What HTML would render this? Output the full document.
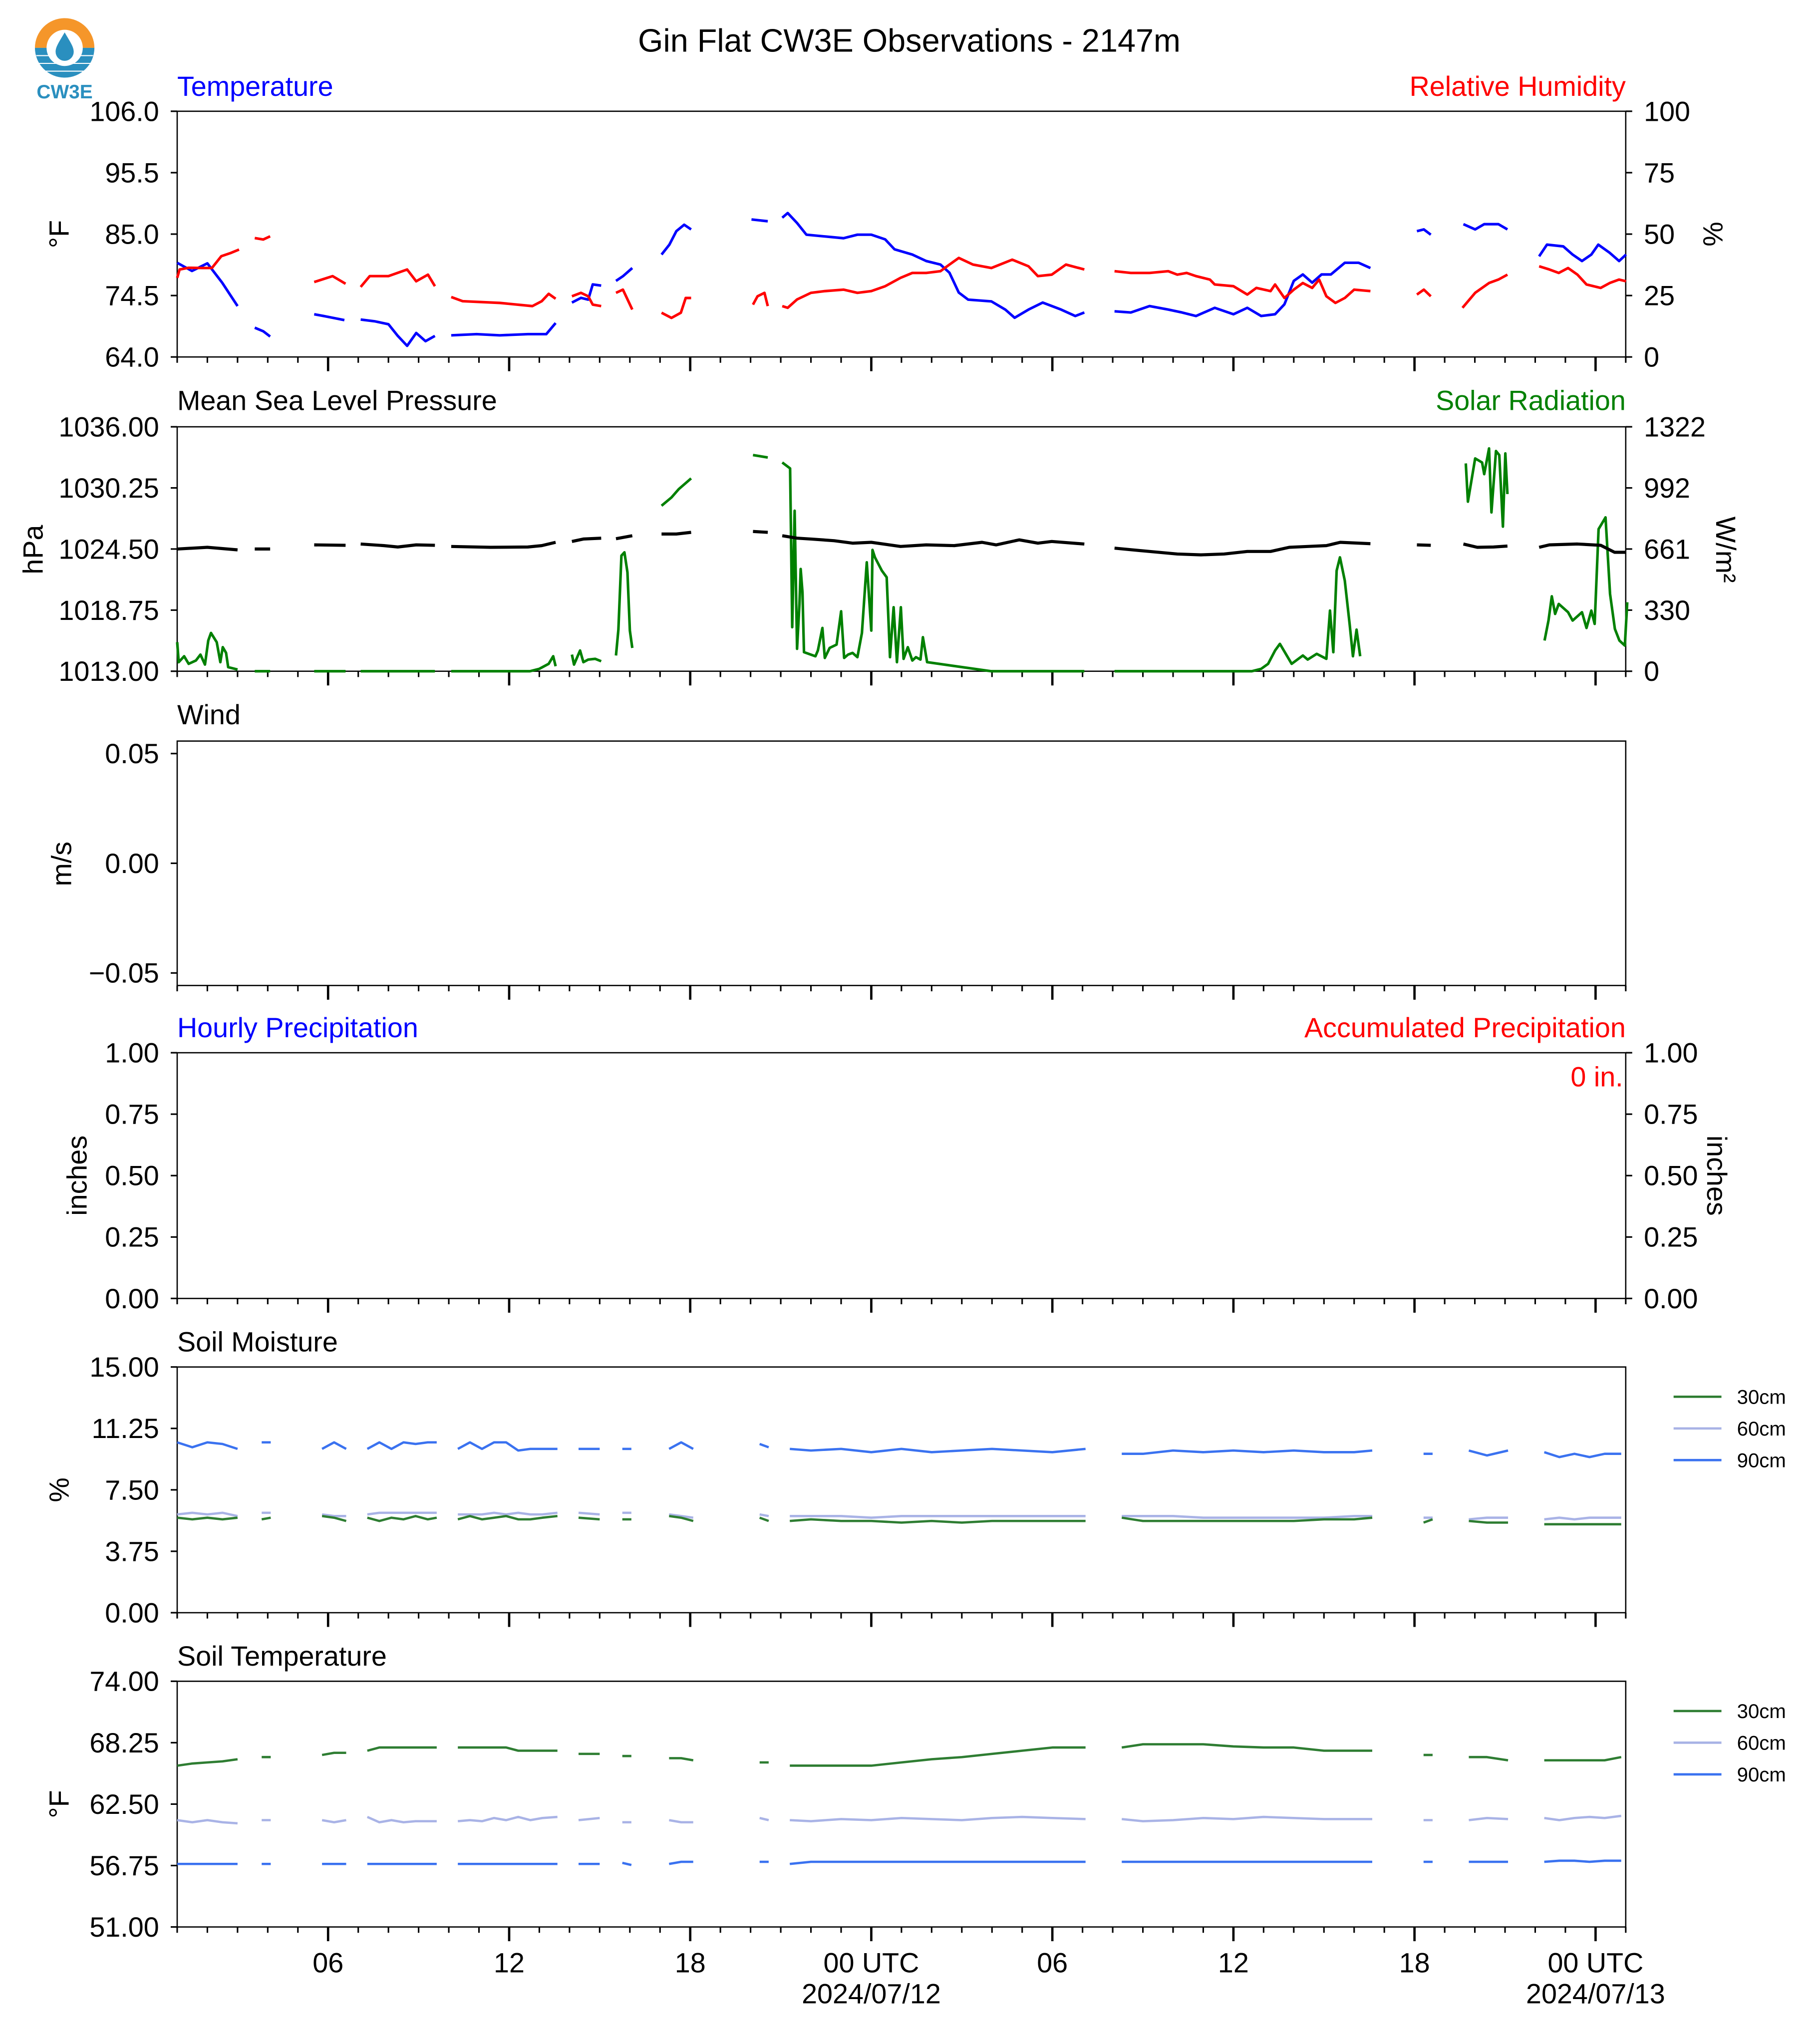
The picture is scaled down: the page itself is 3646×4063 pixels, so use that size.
<!DOCTYPE html>
<html><head><meta charset="utf-8">
<style>
html,body{margin:0;padding:0;background:#fff;}
svg{display:block;font-family:"Liberation Sans",Arial,sans-serif;}
</style></head>
<body>
<svg id="chart" width="3646" height="4063" viewBox="0 0 1407.2 1568.1" xmlns="http://www.w3.org/2000/svg">
<rect x="0" y="0" width="1407.2" height="1568.1" fill="#fff"/>
<g>
  <path d="M27,37 A23,23 0 0 1 73,37 Z" fill="#f5962a"/>
  <path d="M27,37 A23,23 0 0 0 73,37 Z" fill="#2a8fbf"/>
  <line x1="28" y1="43" x2="72" y2="43" stroke="#fff" stroke-width="0.8"/>
  <line x1="30" y1="49" x2="70" y2="49" stroke="#fff" stroke-width="0.8"/>
  <line x1="35" y1="55" x2="65" y2="55" stroke="#fff" stroke-width="0.8"/>
  <circle cx="50" cy="37" r="14" fill="#fff"/>
  <path d="M50,25 C46,32 43,36 43,40 A7,7 0 0 0 57,40 C57,36 54,32 50,25 Z" fill="#2a8fbf"/>
  <text x="50" y="76" text-anchor="middle" font-size="15" font-weight="bold" fill="#2a8fbf">CW3E</text>
</g>
<text x="703" y="40" text-anchor="middle" font-size="25">Gin Flat CW3E Observations - 2147m</text>
<g id="plots"></g>
</svg>
<script>
// ---------- DATA ----------
const tempHours = [1,1.49,2,2.49,3,null,3.57,3.85,4.08,null,5.54,5.85,6.15,6.54,null,7.08,7.54,8,8.31,8.62,8.92,9.23,9.54,null,10.08,10.92,11.69,12.62,13.23,13.54,null,14.08,14.38,14.62,14.77,15.05,null,15.54,15.77,16.08,null,17.05,17.31,17.54,17.8,18.03,null,20.03,20.57,null,21.05,21.23,21.54,21.85,22.46,23.08,23.54,24,24.46,24.77,25.36,25.82,26.29,26.59,26.9,27.21,27.98,28.44,28.75,29.21,29.68,30.29,30.76,31.06,null,32.06,32.6,33.22,33.84,34.3,34.76,35.38,36,36.46,36.92,37.38,37.69,38,38.3,38.61,38.92,39.23,39.69,40.15,40.54,null,42.08,42.31,42.54,null,43.62,44.01,44.31,44.78,45.08,null,46.13,46.39,46.93,47.24,47.55,47.86,48.09,48.47,48.78,49.01];
const tempValues = [80.1,78.7,80.0,76.7,72.7,null,69.0,68.4,67.5,null,71.3,71.0,70.7,70.3,null,70.4,70.1,69.6,67.6,65.9,68.1,66.7,67.6,null,67.7,67.9,67.7,67.9,67.9,69.8,null,73.3,74.1,73.8,76.4,76.2,null,77.0,77.8,79.2,null,81.5,83.2,85.5,86.6,85.8,null,87.5,87.2,null,87.8,88.6,86.9,84.9,84.6,84.3,84.9,84.9,84.1,82.4,81.5,80.4,79.8,78.4,75.0,73.8,73.5,72.1,70.7,72.1,73.3,72.1,71.0,71.6,null,71.8,71.6,72.7,72.1,71.6,71.0,72.4,71.3,72.4,71.0,71.3,73.0,77.0,78.1,76.7,78.1,78.1,80.1,80.1,79.2,null,85.5,85.8,84.9,null,86.7,85.8,86.7,86.7,85.8,null,81.2,83.2,82.9,81.5,80.4,81.5,83.2,81.8,80.4,81.5];
const rhHours = [1,1.08,1.38,1.85,2.15,2.46,2.77,3.05,null,3.57,3.85,4.08,null,5.54,6.15,6.58,null,7.08,7.38,8,8.62,8.92,9.31,9.54,null,10.08,10.46,11.69,12.77,13.08,13.31,13.54,null,14.08,14.38,14.62,14.77,15.05,null,15.54,15.77,16.08,null,17.05,17.38,17.69,17.85,18.03,null,20.08,20.23,20.46,20.57,null,21.05,21.23,21.54,22,22.46,23.08,23.54,24,24.46,24.97,25.36,25.82,26.29,26.59,26.9,27.37,27.98,28.67,29.21,29.52,29.98,30.45,31.06,null,32.06,32.6,33.22,33.84,34.14,34.45,34.76,35.22,35.38,36,36.46,36.76,37.23,37.38,37.69,38,38.3,38.61,38.84,39.08,39.38,39.69,40,40.54,null,42.08,42.31,42.54,null,43.59,44.01,44.47,44.78,45.08,null,46.13,46.47,46.78,47.09,47.4,47.7,48.17,48.47,48.78,49.01];
const rhValues = [32.2,35.6,36.3,36.2,36.2,41.0,42.3,43.7,null,48.4,47.8,49.1,null,30.5,32.9,29.8,null,28.5,32.9,32.9,35.6,30.8,33.5,28.8,null,24.4,22.7,22.0,20.7,22.7,25.7,23.7,null,24.7,26.1,24.7,21.3,20.7,null,26.1,27.4,19.3,null,18.0,15.9,18.0,24.0,24.0,null,21.3,24.7,26.1,20.7,null,20.7,20.0,23.4,26.1,26.8,27.4,26.1,26.8,28.8,32.2,34.2,34.2,34.9,37.6,40.3,37.6,36.2,39.6,36.9,32.9,33.5,37.6,35.6,null,34.9,34.2,34.2,34.9,33.5,34.2,32.9,31.5,29.5,28.8,25.4,28.1,26.8,29.5,24.0,27.4,30.1,28.1,31.5,24.7,22.0,24.0,27.4,26.8,null,25.4,27.4,24.7,null,20.0,26.1,30.1,31.5,33.5,null,36.9,35.6,34.2,36.2,33.5,29.5,28.1,30.1,31.5,30.8];
const presHours = [1,2.0,3.0,null,3.57,4.08,null,5.54,6.58,null,7.08,7.85,8.31,8.92,9.54,null,10.08,11.38,12.62,13.08,13.54,null,14.08,14.46,15.05,null,15.54,16.08,null,17.05,17.54,18.03,null,20.08,20.57,null,21.05,21.54,22,22.77,23.38,24,24.97,25.82,26.75,27.67,28.14,28.9,29.52,29.98,31.06,null,32.06,33.22,34.14,34.92,35.69,36.46,37.23,37.85,38.46,39.08,39.54,40.54,null,42.08,42.54,null,43.62,44.08,44.62,45.08,null,46.13,46.47,47.4,48.17,48.63,49.01];
const presValues = [1024.50,1024.66,1024.42,null,1024.50,1024.50,null,1024.89,1024.85,null,1024.97,1024.82,1024.69,1024.89,1024.85,null,1024.74,1024.66,1024.69,1024.82,1025.13,null,1025.21,1025.44,1025.52,null,1025.47,1025.75,null,1025.91,1025.91,1026.07,null,1026.15,1026.07,null,1025.75,1025.52,1025.44,1025.28,1025.05,1025.13,1024.74,1024.89,1024.82,1025.13,1024.89,1025.36,1025.05,1025.21,1024.97,null,1024.58,1024.27,1024.03,1023.95,1024.03,1024.27,1024.27,1024.66,1024.74,1024.82,1025.13,1025.00,null,1024.89,1024.85,null,1024.97,1024.66,1024.69,1024.78,null,1024.66,1024.89,1024.97,1024.85,1024.19,1024.19];
const solarHours = [1,1.05,1.23,1.38,1.62,1.77,1.92,2.03,2.12,2.31,2.43,2.51,2.62,2.69,3.0,null,3.57,4.08,null,5.54,6.58,null,7.08,9.54,null,10.08,12.69,13.0,13.31,13.46,13.54,null,14.08,14.15,14.35,14.46,14.62,14.85,15.05,null,15.54,15.62,15.72,15.82,15.92,16.0,16.08,null,17.05,17.38,17.62,18.03,null,20.08,20.57,null,21.05,21.31,21.38,21.46,21.54,21.62,21.66,21.72,21.77,22.15,22.23,22.38,22.46,22.62,22.85,23.0,23.1,23.23,23.38,23.54,23.69,23.85,24.0,24.04,24.12,24.35,24.51,24.62,24.74,24.85,24.98,25.07,25.21,25.36,25.48,25.63,25.71,25.85,27.98,31.06,null,32.06,36.61,36.92,37.15,37.38,37.54,37.93,38.3,38.46,38.76,39.08,39.2,39.31,39.42,39.53,39.69,39.85,39.96,40.08,40.2,null,42.08,42.59,null,43.59,43.7,43.77,44.01,44.24,44.31,44.47,44.55,44.70,44.81,44.93,45.01,45.08,null,46.13,46.31,46.44,46.55,46.66,46.78,47.09,47.24,47.55,47.7,47.86,47.97,48.1,48.2,48.33,48.48,48.64,48.79,48.97,49.05];
const solarValues = [157,49,81,40,58,90,36,166,207,157,49,130,99,22,9,null,0,0,null,0,0,null,0,0,null,0,0,13,40,81,27,null,90,36,112,49,63,67,54,null,85,225,625,643,535,220,126,null,895,940,985,1043,null,1169,1156,null,1129,1097,238,868,121,364,553,427,103,81,112,234,72,126,144,324,72,90,99,76,207,589,220,656,616,544,508,76,346,49,346,67,130,58,76,63,184,49,0,0,null,0,0,13,40,112,148,40,85,63,94,67,328,103,544,616,490,256,81,225,81,90,null,1021,1075,null,1124,917,1151,1129,1066,1205,859,1191,1169,782,1178,958,841,null,166,274,405,310,364,319,274,319,234,328,256,769,796,832,418,229,166,139,373,121];

const soilHours = [1,1.5,2,2.5,3,null,3.8,4.1,null,5.8,6.2,6.6,null,7.3,7.7,8.1,8.5,8.9,9.3,9.6,null,10.3,10.7,11.1,11.5,11.9,12.3,12.7,13.1,13.6,null,14.3,15.0,null,15.75,16.05,null,17.3,17.7,18.1,null,20.3,20.6,null,21.3,22,23,24,25,26,27,28,29,30,31.1,null,32.3,33,34,35,36,37,38,39,40,40.6,null,42.3,42.6,null,43.8,44.4,45.1,null,46.3,46.8,47.3,47.8,48.3,48.85];
const moist30 = [5.8,5.7,5.8,5.7,5.8,null,5.7,5.8,null,5.9,5.8,5.6,null,5.8,5.6,5.8,5.7,5.9,5.7,5.8,null,5.7,5.9,5.7,5.8,5.9,5.7,5.7,5.8,5.9,null,5.8,5.7,null,5.7,5.7,null,5.9,5.8,5.6,null,5.8,5.6,null,5.6,5.7,5.6,5.6,5.5,5.6,5.5,5.6,5.6,5.6,5.6,null,5.8,5.6,5.6,5.6,5.6,5.6,5.6,5.7,5.7,5.8,null,5.5,5.7,null,5.6,5.5,5.5,null,5.4,5.4,5.4,5.4,5.4,5.4];
const moist60 = [6.0,6.1,6.0,6.1,5.9,null,6.1,6.1,null,6.0,5.9,5.9,null,6.0,6.1,6.1,6.1,6.1,6.1,6.1,null,6.0,6.0,6.0,6.1,6.0,6.1,6.0,6.0,6.1,null,6.1,6.0,null,6.1,6.1,null,6.0,5.9,5.8,null,6.0,5.9,null,5.9,5.9,5.9,5.8,5.9,5.9,5.9,5.9,5.9,5.9,5.9,null,5.9,5.9,5.9,5.8,5.8,5.8,5.8,5.8,5.9,5.9,null,5.8,5.8,null,5.7,5.8,5.8,null,5.7,5.8,5.7,5.8,5.8,5.8];
const moist90 = [10.4,10.1,10.4,10.3,10.0,null,10.4,10.4,null,10.0,10.4,10.0,null,10.0,10.4,10.0,10.4,10.3,10.4,10.4,null,10.0,10.4,10.0,10.4,10.4,9.9,10.0,10.0,10.0,null,10.0,10.0,null,10.0,10.0,null,10.0,10.4,10.0,null,10.3,10.1,null,10.0,9.9,10.0,9.8,10.0,9.8,9.9,10.0,9.9,9.8,10.0,null,9.7,9.7,9.9,9.8,9.9,9.8,9.9,9.8,9.8,9.9,null,9.7,9.7,null,9.9,9.6,9.9,null,9.8,9.5,9.7,9.5,9.7,9.7];
const stemp30 = [66.1,66.3,66.4,66.5,66.7,null,66.9,66.9,null,67.1,67.3,67.3,null,67.5,67.8,67.8,67.8,67.8,67.8,67.8,null,67.8,67.8,67.8,67.8,67.8,67.5,67.5,67.5,67.5,null,67.2,67.2,null,67.0,67.0,null,66.8,66.8,66.6,null,66.4,66.4,null,66.1,66.1,66.1,66.1,66.4,66.7,66.9,67.2,67.5,67.8,67.8,null,67.8,68.1,68.1,68.1,67.9,67.8,67.8,67.5,67.5,67.5,null,67.1,67.1,null,66.9,66.9,66.6,null,66.6,66.6,66.6,66.6,66.6,66.9];
const stemp60 = [61.0,60.8,61.0,60.8,60.7,null,61.0,61.0,null,61.0,60.8,61.0,null,61.3,60.8,61.0,60.8,60.9,60.9,60.9,null,60.9,61.0,60.9,61.2,61.0,61.3,61.0,61.2,61.3,null,61.0,61.2,null,60.8,60.8,null,61.0,60.8,60.8,null,61.2,61.0,null,61.0,60.9,61.1,61.0,61.2,61.1,61.0,61.2,61.3,61.2,61.1,null,61.1,60.9,61.0,61.2,61.1,61.3,61.2,61.1,61.1,61.1,null,61.0,61.0,null,61.0,61.2,61.1,null,61.2,61.0,61.2,61.3,61.2,61.4];
const stemp90 = [56.9,56.9,56.9,56.9,56.9,null,56.9,56.9,null,56.9,56.9,56.9,null,56.9,56.9,56.9,56.9,56.9,56.9,56.9,null,56.9,56.9,56.9,56.9,56.9,56.9,56.9,56.9,56.9,null,56.9,56.9,null,57.0,56.8,null,56.9,57.1,57.1,null,57.1,57.1,null,56.9,57.1,57.1,57.1,57.1,57.1,57.1,57.1,57.1,57.1,57.1,null,57.1,57.1,57.1,57.1,57.1,57.1,57.1,57.1,57.1,57.1,null,57.1,57.1,null,57.1,57.1,57.1,null,57.1,57.2,57.2,57.1,57.2,57.2];

const tempTicks = ["106.0","95.5","85.0","74.5","64.0"];
const rhTicks = ["100","75","50","25","0"];
const presTicks = ["1036.00","1030.25","1024.50","1018.75","1013.00"];
const solarTicks = ["1322","992","661","330","0"];
const windTicks = ["0.05","0.00","\u22120.05"];
const precipTicks = ["1.00","0.75","0.50","0.25","0.00"];
const moistTicks = ["15.00","11.25","7.50","3.75","0.00"];
const stempTicks = ["74.00","68.25","62.50","56.75","51.00"];
const dayTickHours = [6,12,18,24,30,36,42,48];
const dayTickLabels = ["06","12","18","00 UTC|2024/07/12","06","12","18","00 UTC|2024/07/13"];

// ---------- LAYOUT ----------
const NS = "http://www.w3.org/2000/svg";
const plots = document.getElementById("plots");
const X0 = 137, X1 = 1257, H0 = 1, H1 = 49;
const FS = 21.5;
function xScale(h){ return X0 + (h - H0) * (X1 - X0) / (H1 - H0); }
function mk(tag, attrs, parent){
  const e = document.createElementNS(NS, tag);
  for (const k in attrs) e.setAttribute(k, attrs[k]);
  (parent || plots).appendChild(e);
  return e;
}
function yScaleFn(top, bottom, vmin, vmax){ return v => bottom - (v - vmin) * (bottom - top) / (vmax - vmin); }
function pathD(hours, vals, ys){
  let d = "", pen = false;
  for (let i = 0; i < vals.length; i++){
    if (vals[i] === null || hours[i] === null){ pen = false; continue; }
    d += (pen ? "L" : "M") + xScale(hours[i]).toFixed(2) + "," + ys(vals[i]).toFixed(2);
    pen = true;
  }
  return d;
}
function drawSeries(hours, vals, ys, color, width, name){
  const p = mk("path", {d: pathD(hours, vals, ys), fill: "none", stroke: color, "stroke-width": width, "stroke-linejoin": "round"});
  
  
}
function text(x, y, s, opts, name){
  const t = mk("text", Object.assign({x: x, y: y, "font-size": FS}, opts || {}));
  t.textContent = s;
  
  
  return t;
}
function panel(top, bottom, idx, leftTicks, rightTicks){
  const f = mk("rect", {x: X0, y: top, width: X1 - X0, height: bottom - top, fill: "none", stroke: "#000", "stroke-width": 1});
  
  
  for (let h = H0; h <= H1; h++){
    const major = dayTickHours.indexOf(h) >= 0;
    const t = mk("line", {x1: xScale(h), x2: xScale(h), y1: bottom, y2: bottom + (major ? 11 : 4.5), stroke: "#000", "stroke-width": major ? 1.8 : 1.2});
    
    
  }
  const n = leftTicks.length;
  for (let i = 0; i < n; i++){
    const y = top + i * (bottom - top) / (n - 1);
    const t = mk("line", {x1: X0 - 5, x2: X0, y1: y, y2: y, stroke: "#000", "stroke-width": 1.2});
    
    
    text(X0 - 14, y + 7.5, leftTicks[i], {"text-anchor": "end"}, 'y-tick-label');
  }
  if (rightTicks){
    for (let i = 0; i < rightTicks.length; i++){
      const y = top + i * (bottom - top) / (rightTicks.length - 1);
      const t = mk("line", {x1: X1, x2: X1 + 5, y1: y, y2: y, stroke: "#000", "stroke-width": 1.2});
      
      
      text(X1 + 14, y + 7.5, rightTicks[i], {}, 'y2-tick-label');
    }
  }
}
function rotLabel(x, y, s, rot, name){
  return text(x, y, s, {"text-anchor": "middle", transform: "rotate(" + rot + " " + x + " " + y + ")"}, name);
}

const P = [[86,276],[330,519],[573,762],[814,1004],[1057,1247],[1300,1490]];

// Panel 1: Temperature / RH
panel(P[0][0], P[0][1], 1, tempTicks, rhTicks);
text(137, 74, "Temperature", {fill: "#0000ff"}, 'temperature-title');
text(1257, 74, "Relative Humidity", {fill: "#ff0000", "text-anchor": "end"}, 'humidity-title');
rotLabel(53, 181, "\u00B0F", -90, 'temperature-axis-title');
rotLabel(1317, 181, "%", 90, 'humidity-axis-title');
drawSeries(tempHours, tempValues, yScaleFn(P[0][0], P[0][1], 64, 106), "#0000ff", 2, 'temperature-line');
drawSeries(rhHours, rhValues, yScaleFn(P[0][0], P[0][1], 0, 100), "#ff0000", 2, 'humidity-line');

// Panel 2: Pressure / Solar
panel(P[1][0], P[1][1], 2, presTicks, solarTicks);
text(137, 317, "Mean Sea Level Pressure", {}, 'pressure-title');
text(1257, 317, "Solar Radiation", {fill: "#008000", "text-anchor": "end"}, 'solar-title');
rotLabel(33, 425, "hPa", -90, 'pressure-axis-title');
rotLabel(1327, 425, "W/m\u00B2", 90, 'solar-axis-title');
drawSeries(solarHours, solarValues, yScaleFn(P[1][0], P[1][1], 0, 1322), "#008000", 2, 'solar-line');
drawSeries(presHours, presValues, yScaleFn(P[1][0], P[1][1], 1013, 1036), "#000000", 2.4, 'pressure-line');

// Panel 3: Wind
panel(P[2][0], P[2][1], 3, [], null);
(function(){
  const ys = yScaleFn(P[2][0], P[2][1], -0.0557, 0.0557);
  const vals = [0.05, 0.0, -0.05];
  for (let i = 0; i < vals.length; i++){
    const y = ys(vals[i]);
    const t = mk("line", {x1: X0 - 5, x2: X0, y1: y, y2: y, stroke: "#000", "stroke-width": 1.2});
    
    
    text(X0 - 14, y + 7.5, windTicks[i], {"text-anchor": "end"}, 'y-tick-label');
  }
})();
text(137, 560, "Wind", {}, 'wind-title');
rotLabel(55, 668, "m/s", -90, 'wind-axis-title');

// Panel 4: Precipitation
panel(P[3][0], P[3][1], 4, precipTicks, precipTicks);
text(137, 802, "Hourly Precipitation", {fill: "#0000ff"}, 'hourly-precip-title');
text(1257, 802, "Accumulated Precipitation", {fill: "#ff0000", "text-anchor": "end"}, 'accum-precip-title');
text(1255, 840, "0 in.", {fill: "#ff0000", "text-anchor": "end"}, 'accum-precip-total');
rotLabel(67, 909, "inches", -90, 'precip-axis-title');
rotLabel(1320, 909, "inches", 90, 'accum-axis-title');

// Panel 5: Soil Moisture
panel(P[4][0], P[4][1], 5, moistTicks, null);
text(137, 1045, "Soil Moisture", {}, 'soil-moisture-title');
rotLabel(53, 1152, "%", -90, 'soil-moisture-axis-title');
const ysm = yScaleFn(P[4][0], P[4][1], 0, 15);
drawSeries(soilHours, moist60, ysm, "#a9b3e6", 1.8, 'moisture-60cm-line');
drawSeries(soilHours, moist30, ysm, "#2e7d32", 1.8, 'moisture-30cm-line');
drawSeries(soilHours, moist90, ysm, "#3a72f0", 1.8, 'moisture-90cm-line');

// Panel 6: Soil Temperature
panel(P[5][0], P[5][1], 6, stempTicks, null);
text(137, 1288, "Soil Temperature", {}, 'soil-temp-title');
rotLabel(53, 1395, "\u00B0F", -90, 'soil-temp-axis-title');
const yst = yScaleFn(P[5][0], P[5][1], 51, 74);
drawSeries(soilHours, stemp30, yst, "#2e7d32", 1.8, 'soiltemp-30cm-line');
drawSeries(soilHours, stemp60, yst, "#a9b3e6", 1.8, 'soiltemp-60cm-line');
drawSeries(soilHours, stemp90, yst, "#3a72f0", 1.8, 'soiltemp-90cm-line');

// Legends
const legendLabels = ["30cm","60cm","90cm"];
const legendColors = ["#2e7d32","#a9b3e6","#3a72f0"];
[1080, 1323].forEach(function(y0, k){
  for (let i = 0; i < 3; i++){
    const y = y0 + i * 24.5;
    const l = mk("line", {x1: 1294, x2: 1331, y1: y, y2: y, stroke: legendColors[i], "stroke-width": 1.8});
    
    
    text(1343, y + 5.5, legendLabels[i], {"font-size": 15.5}, 'legend-entry-' + legendLabels[i]);
  }
});

// X tick labels
for (let i = 0; i < dayTickHours.length; i++){
  const parts = dayTickLabels[i].split("|");
  const x = xScale(dayTickHours[i]);
  text(x, 1525, parts[0], {"text-anchor": "middle"}, 'x-tick-label');
  if (parts[1]) text(x, 1549, parts[1], {"text-anchor": "middle"}, 'x-date-label');
}
</script>
</body></html>
